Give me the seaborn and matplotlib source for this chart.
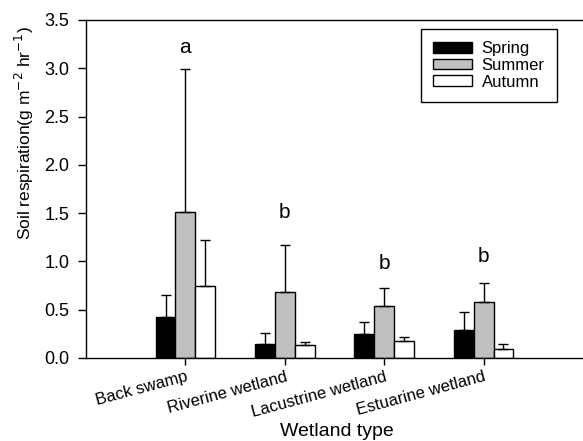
import numpy as np
import pandas as pd
import matplotlib
matplotlib.use("Agg")
import matplotlib.pyplot as plt
import seaborn as sns

categories = ["Back swamp", "Riverine wetland", "Lacustrine wetland", "Estuarine wetland"]
seasons = ["Spring", "Summer", "Autumn"]
spring = [0.42, 0.15, 0.245, 0.29]
summer = [1.51, 0.68, 0.535, 0.58]
autumn = [0.75, 0.13, 0.175, 0.095]
spring_err = [0.23, 0.11, 0.13, 0.19]
summer_err = [1.48, 0.49, 0.195, 0.20]
autumn_err = [0.47, 0.04, 0.045, 0.055]
letters = ["a", "b", "b", "b"]
letter_y = [3.22, 1.51, 0.98, 1.05]

sns.set_style("ticks")
plt.rcParams["font.family"] = ["Liberation Sans", "DejaVu Sans"]
plt.rcParams["text.color"] = "black"
plt.rcParams["axes.labelcolor"] = "black"
plt.rcParams["xtick.color"] = "black"
plt.rcParams["ytick.color"] = "black"

rows = []
for s, vals, errs in zip(seasons, [spring, summer, autumn], [spring_err, summer_err, autumn_err]):
    for c, v, e in zip(categories, vals, errs):
        rows.append({"Wetland": c, "Season": s, "Value": v, "Err": e})
df = pd.DataFrame(rows)

fig = plt.figure(figsize=(5.83, 4.41), dpi=100)
ax = fig.add_axes([86 / 583, 83 / 441, 497 / 583, 338 / 441])

palette = {"Spring": "#000000", "Summer": "#c0c0c0", "Autumn": "#ffffff"}
sns.barplot(data=df, x="Wetland", y="Value", hue="Season", order=categories,
            hue_order=seasons, palette=palette, width=0.6, errorbar=None,
            edgecolor="black", linewidth=1.0, saturation=1, ax=ax)

# error bars (upper only) at bar centres
for container, s in zip(ax.containers, seasons):
    sub = df[df["Season"] == s].set_index("Wetland").loc[categories]
    xs = [p.get_x() + p.get_width() / 2 for p in container.patches]
    hs = [p.get_height() for p in container.patches]
    ax.errorbar(xs, hs, yerr=[np.zeros(len(xs)), sub["Err"].values], fmt="none",
                ecolor="black", elinewidth=1.0, capsize=3.6, capthick=1.0, zorder=1)

for i, (t, y) in enumerate(zip(letters, letter_y)):
    ax.text(i, y, t, ha="center", va="center", fontsize=15)

ax.set_xlim(-1, 4)
ax.set_ylim(0, 3.5)
ax.set_yticks(np.arange(0, 3.51, 0.5))
ax.set_yticklabels([f"{v:.1f}" for v in np.arange(0, 3.51, 0.5)], fontsize=13)
ax.set_xticks(range(len(categories)))
ax.set_xticklabels(categories, rotation=15, ha="right", rotation_mode="anchor", fontsize=12)
ax.tick_params(axis="y", length=6, pad=6, width=1)
ax.tick_params(axis="x", length=5, pad=3, width=1)
ax.set_xlabel("Wetland type", fontsize=14)
ax.set_ylabel("Soil respiration(g m$^{-2}$ hr$^{-1}$)", fontsize=12.5)
ax.xaxis.set_label_coords(0.504, -0.192)
ax.yaxis.set_label_coords(-0.10, 0.665)

for side in ["left", "bottom", "top"]:
    ax.spines[side].set_visible(True)
    ax.spines[side].set_color("black")
    ax.spines[side].set_linewidth(1.0)
ax.spines["right"].set_visible(False)

leg = ax.legend(loc="upper right", bbox_to_anchor=(0.948, 0.974), fontsize=12,
                frameon=True, fancybox=False, edgecolor="black", framealpha=1,
                handlelength=2.3, handleheight=0.6, labelspacing=0.1,
                borderpad=0.75, borderaxespad=0, handletextpad=0.6, title=None)
leg.get_frame().set_linewidth(1.0)
for h in leg.get_patches():
    h.set_edgecolor("black")
    h.set_linewidth(1.0)

fig.savefig("out.png", dpi=100)
